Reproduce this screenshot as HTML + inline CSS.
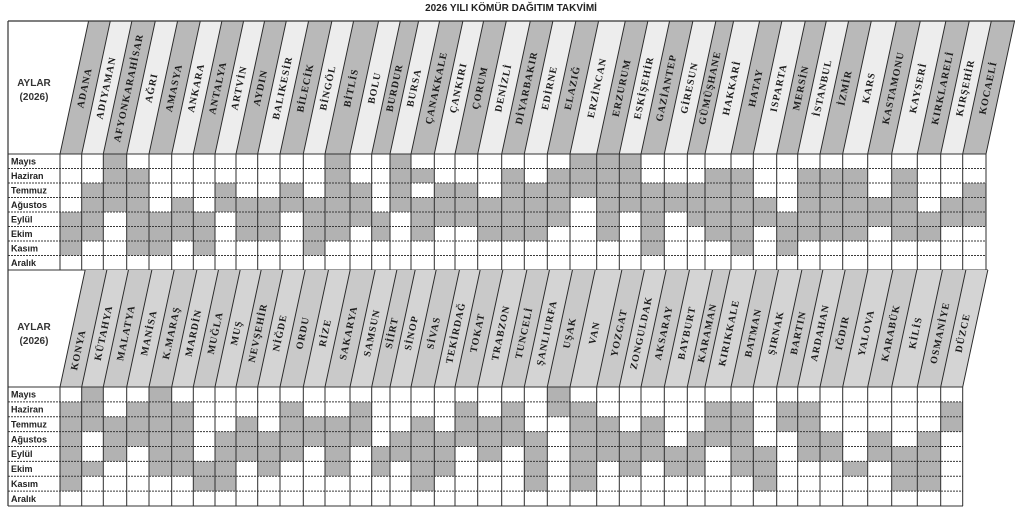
<!DOCTYPE html>
<html><head><meta charset="utf-8"><style>
html,body{margin:0;padding:0;background:#fff;}
svg{display:block;}
.hd{font-family:"Liberation Serif",serif;font-weight:bold;font-size:10px;letter-spacing:1px;fill:#1c1c1c;}
.rl{font-family:"Liberation Sans",sans-serif;font-weight:bold;font-size:9px;fill:#222;}
.ay{font-family:"Liberation Sans",sans-serif;font-weight:bold;font-size:10px;fill:#333;}
</style></head><body>
<svg width="1024" height="514" viewBox="0 0 1024 514" xmlns="http://www.w3.org/2000/svg">
<rect x="0" y="0" width="1024" height="514" fill="#fff"/>
<text x="511" y="11" text-anchor="middle" font-family="Liberation Sans, sans-serif" font-weight="bold" font-size="10" fill="#222">2026 YILI KÖMÜR DAĞITIM TAKVİMİ</text>

<!-- TOP HEADER STRIPS -->
<g transform="translate(0,154) skewX(-12.13)">
<rect x="60" y="-133" width="926" height="133" fill="#ededed"/>
<g fill="#b9b9b9">
<rect x="60" y="-133" width="21.7" height="133"/><rect x="103.3" y="-133" width="23.4" height="133"/><rect x="149" y="-133" width="22.7" height="133"/><rect x="193.3" y="-133" width="21.7" height="133"/><rect x="236" y="-133" width="21.7" height="133"/><rect x="280" y="-133" width="23.3" height="133"/><rect x="325" y="-133" width="25" height="133"/><rect x="371.7" y="-133" width="18.3" height="133"/><rect x="411" y="-133" width="23.3" height="133"/><rect x="455" y="-133" width="22.7" height="133"/><rect x="501.7" y="-133" width="22.6" height="133"/><rect x="547.3" y="-133" width="22.7" height="133"/><rect x="596.7" y="-133" width="22.6" height="133"/><rect x="641" y="-133" width="23.3" height="133"/><rect x="687.3" y="-133" width="17.7" height="133"/><rect x="731" y="-133" width="22.3" height="133"/><rect x="776.7" y="-133" width="21" height="133"/><rect x="820" y="-133" width="22.7" height="133"/><rect x="867.7" y="-133" width="24" height="133"/><rect x="917.3" y="-133" width="23.4" height="133"/><rect x="962.7" y="-133" width="23.3" height="133"/>
</g>
<path d="M60 0V-133M81.7 0V-133M103.3 0V-133M126.7 0V-133M149 0V-133M171.7 0V-133M193.3 0V-133M215 0V-133M236 0V-133M257.7 0V-133M280 0V-133M303.3 0V-133M325 0V-133M350 0V-133M371.7 0V-133M390 0V-133M411 0V-133M434.3 0V-133M455 0V-133M477.7 0V-133M501.7 0V-133M524.3 0V-133M547.3 0V-133M570 0V-133M596.7 0V-133M619.3 0V-133M641 0V-133M664.3 0V-133M687.3 0V-133M705 0V-133M731 0V-133M753.3 0V-133M776.7 0V-133M797.7 0V-133M820 0V-133M842.7 0V-133M867.7 0V-133M891.7 0V-133M917.3 0V-133M940.7 0V-133M962.7 0V-133M986 0V-133" stroke="#2a2a2a" stroke-width="1" fill="none"/>
</g>
<path d="M8 21H1015" stroke="#333" stroke-width="1.2"/>

<!-- TOP HEADER TEXT -->
<g class="hd" text-anchor="middle" dominant-baseline="central">
<text transform="translate(85.1,88) rotate(-77.87)">ADANA</text>
<text transform="translate(106.7,88) rotate(-77.87)">ADIYAMAN</text>
<text transform="translate(129.2,88) rotate(-77.87)">AFYONKARAHİSAR</text>
<text transform="translate(152.1,88) rotate(-77.87)">AĞRI</text>
<text transform="translate(174.6,88) rotate(-77.87)">AMASYA</text>
<text transform="translate(196.7,88) rotate(-77.87)">ANKARA</text>
<text transform="translate(218.4,88) rotate(-77.87)">ANTALYA</text>
<text transform="translate(239.7,88) rotate(-77.87)">ARTVİN</text>
<text transform="translate(261.1,88) rotate(-77.87)">AYDIN</text>
<text transform="translate(283.1,88) rotate(-77.87)">BALIKESİR</text>
<text transform="translate(305.9,88) rotate(-77.87)">BİLECİK</text>
<text transform="translate(328.4,88) rotate(-77.87)">BİNGÖL</text>
<text transform="translate(351.7,88) rotate(-77.87)">BİTLİS</text>
<text transform="translate(375.1,88) rotate(-77.87)">BOLU</text>
<text transform="translate(395.1,88) rotate(-77.87)">BURDUR</text>
<text transform="translate(414.7,88) rotate(-77.87)">BURSA</text>
<text transform="translate(436.9,88) rotate(-77.87)">ÇANAKKALE</text>
<text transform="translate(458.9,88) rotate(-77.87)">ÇANKIRI</text>
<text transform="translate(480.6,88) rotate(-77.87)">ÇORUM</text>
<text transform="translate(503.9,88) rotate(-77.87)">DENİZLİ</text>
<text transform="translate(527.2,88) rotate(-77.87)">DİYARBAKIR</text>
<text transform="translate(550,88) rotate(-77.87)">EDİRNE</text>
<text transform="translate(572.9,88) rotate(-77.87)">ELAZIĞ</text>
<text transform="translate(597.6,88) rotate(-77.87)">ERZİNCAN</text>
<text transform="translate(622.2,88) rotate(-77.87)">ERZURUM</text>
<text transform="translate(644.4,88) rotate(-77.87)">ESKİŞEHİR</text>
<text transform="translate(666.9,88) rotate(-77.87)">GAZİANTEP</text>
<text transform="translate(690,88) rotate(-77.87)">GİRESUN</text>
<text transform="translate(710.4,88) rotate(-77.87)">GÜMÜŞHANE</text>
<text transform="translate(732.2,88) rotate(-77.87)">HAKKARİ</text>
<text transform="translate(756.4,88) rotate(-77.87)">HATAY</text>
<text transform="translate(779.2,88) rotate(-77.87)">ISPARTA</text>
<text transform="translate(801.4,88) rotate(-77.87)">MERSİN</text>
<text transform="translate(823.1,88) rotate(-77.87)">İSTANBUL</text>
<text transform="translate(845.6,88) rotate(-77.87)">İZMİR</text>
<text transform="translate(869.4,88) rotate(-77.87)">KARS</text>
<text transform="translate(893.9,88) rotate(-77.87)">KASTAMONU</text>
<text transform="translate(918.7,88) rotate(-77.87)">KAYSERİ</text>
<text transform="translate(943.2,88) rotate(-77.87)">KIRKLARELİ</text>
<text transform="translate(965.9,88) rotate(-77.87)">KIRŞEHİR</text>
<text transform="translate(988.6,88) rotate(-77.87)">KOCAELİ</text>
</g>
<text class="ay" x="34" y="86" text-anchor="middle">AYLAR</text>
<text class="ay" x="34" y="100" text-anchor="middle">(2026)</text>

<!-- TOP GRID CELLS -->
<g fill="#b2b2b2">
<rect x="60" y="212" width="21.7" height="43.5"/>
<rect x="81.7" y="183" width="21.6" height="58"/>
<rect x="103.3" y="154" width="23.4" height="58"/>
<rect x="126.7" y="168.5" width="22.3" height="87"/>
<rect x="149" y="212" width="22.7" height="43.5"/>
<rect x="171.7" y="197.5" width="21.6" height="43.5"/>
<rect x="193.3" y="212" width="21.7" height="43.5"/>
<rect x="215" y="183" width="21" height="29"/>
<rect x="236" y="197.5" width="21.7" height="43.5"/>
<rect x="257.7" y="197.5" width="22.3" height="43.5"/>
<rect x="280" y="183" width="23.3" height="29"/>
<rect x="303.3" y="197.5" width="21.7" height="58"/>
<rect x="325" y="154" width="25" height="87"/>
<rect x="350" y="183" width="21.7" height="43.5"/>
<rect x="371.7" y="212" width="18.3" height="29"/>
<rect x="390" y="154" width="21" height="58"/>
<rect x="411" y="168.5" width="23.3" height="14.5"/><rect x="411" y="197.5" width="23.3" height="43.5"/>
<rect x="434.3" y="183" width="20.7" height="43.5"/>
<rect x="455" y="183" width="22.7" height="43.5"/>
<rect x="477.7" y="197.5" width="24" height="43.5"/>
<rect x="501.7" y="168.5" width="22.6" height="72.5"/>
<rect x="524.3" y="183" width="23" height="58"/>
<rect x="547.3" y="168.5" width="22.7" height="58"/>
<rect x="570" y="154" width="26.7" height="43.5"/>
<rect x="596.7" y="154" width="22.6" height="87"/>
<rect x="619.3" y="154" width="21.7" height="58"/>
<rect x="641" y="183" width="23.3" height="72.5"/>
<rect x="664.3" y="183" width="23" height="29"/>
<rect x="687.3" y="183" width="17.7" height="43.5"/>
<rect x="705" y="168.5" width="26" height="72.5"/>
<rect x="731" y="168.5" width="22.3" height="87"/>
<rect x="753.3" y="197.5" width="23.4" height="29"/>
<rect x="776.7" y="212" width="21" height="43.5"/>
<rect x="797.7" y="168.5" width="22.3" height="72.5"/>
<rect x="820" y="168.5" width="22.7" height="72.5"/>
<rect x="842.7" y="168.5" width="25" height="72.5"/>
<rect x="867.7" y="197.5" width="24" height="29"/>
<rect x="891.7" y="168.5" width="25.6" height="72.5"/>
<rect x="917.3" y="212" width="23.4" height="29"/>
<rect x="940.7" y="197.5" width="22" height="29"/>
<rect x="962.7" y="183" width="23.3" height="43.5"/>
</g>
<!-- top grid lines -->
<path d="M8 168.5H986M8 183H986M8 197.5H986M8 212H986M8 226.5H986M8 241H986M8 255.5H986" stroke="#3a3a3a" stroke-width="1" stroke-dasharray="2 1" fill="none"/>
<path d="M8 154H986M8 270H988" stroke="#333" stroke-width="1" fill="none"/>
<path d="M60 154V270M81.7 154V270M103.3 154V270M126.7 154V270M149 154V270M171.7 154V270M193.3 154V270M215 154V270M236 154V270M257.7 154V270M280 154V270M303.3 154V270M325 154V270M350 154V270M371.7 154V270M390 154V270M411 154V270M434.3 154V270M455 154V270M477.7 154V270M501.7 154V270M524.3 154V270M547.3 154V270M570 154V270M596.7 154V270M619.3 154V270M641 154V270M664.3 154V270M687.3 154V270M705 154V270M731 154V270M753.3 154V270M776.7 154V270M797.7 154V270M820 154V270M842.7 154V270M867.7 154V270M891.7 154V270M917.3 154V270M940.7 154V270M962.7 154V270M986 154V270" stroke="#2e2e2e" stroke-width="1" fill="none"/>
<g class="rl">
<text x="11" y="164.5">Mayıs</text>
<text x="11" y="179">Haziran</text>
<text x="11" y="193.5">Temmuz</text>
<text x="11" y="208">Ağustos</text>
<text x="11" y="222.5">Eylül</text>
<text x="11" y="237">Ekim</text>
<text x="11" y="251.5">Kasım</text>
<text x="11" y="266">Aralık</text>
</g>

<!-- BOTTOM HEADER STRIPS -->
<g transform="translate(0,387) skewX(-12.13)">
<rect x="60" y="-117" width="902.7" height="117" fill="#d4d4d4"/>
<g fill="#c9c9c9">
<rect x="60" y="-117" width="21.7" height="117"/><rect x="103.3" y="-117" width="23.4" height="117"/><rect x="149" y="-117" width="22.7" height="117"/><rect x="193.3" y="-117" width="21.7" height="117"/><rect x="236" y="-117" width="21.7" height="117"/><rect x="280" y="-117" width="23.3" height="117"/><rect x="325" y="-117" width="25" height="117"/><rect x="371.7" y="-117" width="18.3" height="117"/><rect x="411" y="-117" width="23.3" height="117"/><rect x="455" y="-117" width="22.7" height="117"/><rect x="501.7" y="-117" width="22.6" height="117"/><rect x="547.3" y="-117" width="22.7" height="117"/><rect x="596.7" y="-117" width="22.6" height="117"/><rect x="641" y="-117" width="23.3" height="117"/><rect x="687.3" y="-117" width="17.7" height="117"/><rect x="731" y="-117" width="22.3" height="117"/><rect x="776.7" y="-117" width="21" height="117"/><rect x="820" y="-117" width="22.7" height="117"/><rect x="867.7" y="-117" width="24" height="117"/><rect x="917.3" y="-117" width="23.4" height="117"/>
</g>
<path d="M60 0V-117M81.7 0V-117M103.3 0V-117M126.7 0V-117M149 0V-117M171.7 0V-117M193.3 0V-117M215 0V-117M236 0V-117M257.7 0V-117M280 0V-117M303.3 0V-117M325 0V-117M350 0V-117M371.7 0V-117M390 0V-117M411 0V-117M434.3 0V-117M455 0V-117M477.7 0V-117M501.7 0V-117M524.3 0V-117M547.3 0V-117M570 0V-117M596.7 0V-117M619.3 0V-117M641 0V-117M664.3 0V-117M687.3 0V-117M705 0V-117M731 0V-117M753.3 0V-117M776.7 0V-117M797.7 0V-117M820 0V-117M842.7 0V-117M867.7 0V-117M891.7 0V-117M917.3 0V-117M940.7 0V-117M962.7 0V-117" stroke="#2a2a2a" stroke-width="1" fill="none"/>
</g>

<!-- BOTTOM HEADER TEXT -->
<g class="hd" text-anchor="middle" dominant-baseline="central">
<text transform="translate(78.9,350) rotate(-77.87)">KONYA</text>
<text transform="translate(104.1,333) rotate(-77.87)">KÜTAHYA</text>
<text transform="translate(126.6,333) rotate(-77.87)">MALATYA</text>
<text transform="translate(149.5,333) rotate(-77.87)">MANİSA</text>
<text transform="translate(172,333) rotate(-77.87)">K.MARAŞ</text>
<text transform="translate(194.1,333) rotate(-77.87)">MARDİN</text>
<text transform="translate(215.8,333) rotate(-77.87)">MUĞLA</text>
<text transform="translate(237.1,333) rotate(-77.87)">MUŞ</text>
<text transform="translate(258.5,333) rotate(-77.87)">NEVŞEHİR</text>
<text transform="translate(280.5,333) rotate(-77.87)">NİĞDE</text>
<text transform="translate(303.3,333) rotate(-77.87)">ORDU</text>
<text transform="translate(325.8,333) rotate(-77.87)">RİZE</text>
<text transform="translate(349.1,333) rotate(-77.87)">SAKARYA</text>
<text transform="translate(372.5,333) rotate(-77.87)">SAMSUN</text>
<text transform="translate(392.5,333) rotate(-77.87)">SİİRT</text>
<text transform="translate(412.1,333) rotate(-77.87)">SİNOP</text>
<text transform="translate(434.3,333) rotate(-77.87)">SİVAS</text>
<text transform="translate(456.3,333) rotate(-77.87)">TEKİRDAĞ</text>
<text transform="translate(478,333) rotate(-77.87)">TOKAT</text>
<text transform="translate(501.3,333) rotate(-77.87)">TRABZON</text>
<text transform="translate(524.6,333) rotate(-77.87)">TUNCELİ</text>
<text transform="translate(547.4,333) rotate(-77.87)">ŞANLIURFA</text>
<text transform="translate(570.3,333) rotate(-77.87)">UŞAK</text>
<text transform="translate(595,333) rotate(-77.87)">VAN</text>
<text transform="translate(619.6,333) rotate(-77.87)">YOZGAT</text>
<text transform="translate(641.8,333) rotate(-77.87)">ZONGULDAK</text>
<text transform="translate(664.3,333) rotate(-77.87)">AKSARAY</text>
<text transform="translate(687.4,333) rotate(-77.87)">BAYBURT</text>
<text transform="translate(707.8,333) rotate(-77.87)">KARAMAN</text>
<text transform="translate(729.6,333) rotate(-77.87)">KIRIKKALE</text>
<text transform="translate(753.8,333) rotate(-77.87)">BATMAN</text>
<text transform="translate(776.6,333) rotate(-77.87)">ŞIRNAK</text>
<text transform="translate(798.8,333) rotate(-77.87)">BARTIN</text>
<text transform="translate(820.5,333) rotate(-77.87)">ARDAHAN</text>
<text transform="translate(843,333) rotate(-77.87)">IĞDIR</text>
<text transform="translate(866.8,333) rotate(-77.87)">YALOVA</text>
<text transform="translate(891.3,333) rotate(-77.87)">KARABÜK</text>
<text transform="translate(916.1,333) rotate(-77.87)">KİLİS</text>
<text transform="translate(940.6,333) rotate(-77.87)">OSMANİYE</text>
<text transform="translate(963.3,333) rotate(-77.87)">DÜZCE</text>
</g>
<text class="ay" x="34" y="330" text-anchor="middle">AYLAR</text>
<text class="ay" x="34" y="344" text-anchor="middle">(2026)</text>

<!-- BOTTOM GRID CELLS -->
<g fill="#b2b2b2">
<rect x="60" y="401.9" width="21.7" height="89.25"/>
<rect x="81.7" y="387" width="21.6" height="44.6"/><rect x="81.7" y="461.4" width="21.6" height="14.9"/>
<rect x="103.3" y="416.75" width="23.4" height="44.6"/>
<rect x="126.7" y="401.9" width="22.3" height="44.6"/>
<rect x="149" y="387" width="22.7" height="89.25"/>
<rect x="171.7" y="401.9" width="21.6" height="74.4"/>
<rect x="193.3" y="461.4" width="21.7" height="29.75"/>
<rect x="215" y="431.6" width="21" height="59.5"/>
<rect x="236" y="416.75" width="21.7" height="44.6"/>
<rect x="257.7" y="431.6" width="22.3" height="44.6"/>
<rect x="280" y="401.9" width="23.3" height="59.5"/>
<rect x="303.3" y="416.75" width="21.7" height="29.75"/>
<rect x="325" y="416.75" width="25" height="59.5"/>
<rect x="350" y="401.9" width="21.7" height="44.6"/>
<rect x="371.7" y="446.5" width="18.3" height="29.75"/>
<rect x="390" y="431.6" width="21" height="29.75"/>
<rect x="411" y="416.75" width="23.3" height="74.4"/>
<rect x="434.3" y="431.6" width="20.7" height="44.6"/>
<rect x="455" y="401.9" width="22.7" height="44.6"/>
<rect x="477.7" y="416.75" width="24" height="44.6"/>
<rect x="501.7" y="401.9" width="22.6" height="44.6"/>
<rect x="524.3" y="431.6" width="23" height="59.5"/>
<rect x="547.3" y="387" width="22.7" height="29.75"/>
<rect x="570" y="401.9" width="26.7" height="89.25"/>
<rect x="596.7" y="416.75" width="22.6" height="44.6"/>
<rect x="619.3" y="431.6" width="21.7" height="44.6"/>
<rect x="641" y="416.75" width="23.3" height="44.6"/>
<rect x="664.3" y="446.5" width="23" height="29.75"/>
<rect x="687.3" y="431.6" width="17.7" height="44.6"/>
<rect x="705" y="401.9" width="26" height="44.6"/>
<rect x="731" y="401.9" width="22.3" height="74.4"/>
<rect x="753.3" y="446.5" width="23.4" height="44.6"/>
<rect x="776.7" y="401.9" width="21" height="29.75"/>
<rect x="797.7" y="401.9" width="22.3" height="59.5"/>
<rect x="820" y="431.6" width="22.7" height="29.75"/>
<rect x="842.7" y="461.4" width="25" height="14.9"/>
<rect x="867.7" y="431.6" width="24" height="29.75"/>
<rect x="891.7" y="446.5" width="25.6" height="44.6"/>
<rect x="917.3" y="431.6" width="23.4" height="59.5"/>
<rect x="940.7" y="401.9" width="22" height="29.75"/>
</g>
<!-- bottom grid lines -->
<path d="M8 401.9H963M8 416.75H963M8 431.6H963M8 446.5H963M8 461.4H963M8 476.25H963M8 491.1H963" stroke="#3a3a3a" stroke-width="1" stroke-dasharray="2 1" fill="none"/>
<path d="M8 387H963M8 506H963" stroke="#333" stroke-width="1" fill="none"/>
<path d="M60 387V506M81.7 387V506M103.3 387V506M126.7 387V506M149 387V506M171.7 387V506M193.3 387V506M215 387V506M236 387V506M257.7 387V506M280 387V506M303.3 387V506M325 387V506M350 387V506M371.7 387V506M390 387V506M411 387V506M434.3 387V506M455 387V506M477.7 387V506M501.7 387V506M524.3 387V506M547.3 387V506M570 387V506M596.7 387V506M619.3 387V506M641 387V506M664.3 387V506M687.3 387V506M705 387V506M731 387V506M753.3 387V506M776.7 387V506M797.7 387V506M820 387V506M842.7 387V506M867.7 387V506M891.7 387V506M917.3 387V506M940.7 387V506M962.7 387V506" stroke="#2e2e2e" stroke-width="1" fill="none"/>
<g class="rl">
<text x="11" y="397.6">Mayıs</text>
<text x="11" y="412.5">Haziran</text>
<text x="11" y="427.4">Temmuz</text>
<text x="11" y="442.3">Ağustos</text>
<text x="11" y="457.2">Eylül</text>
<text x="11" y="472">Ekim</text>
<text x="11" y="486.9">Kasım</text>
<text x="11" y="501.8">Aralık</text>
</g>

<!-- outer left border -->
<path d="M8 21V506" stroke="#333" stroke-width="1.2" fill="none"/>
</svg>
</body></html>
